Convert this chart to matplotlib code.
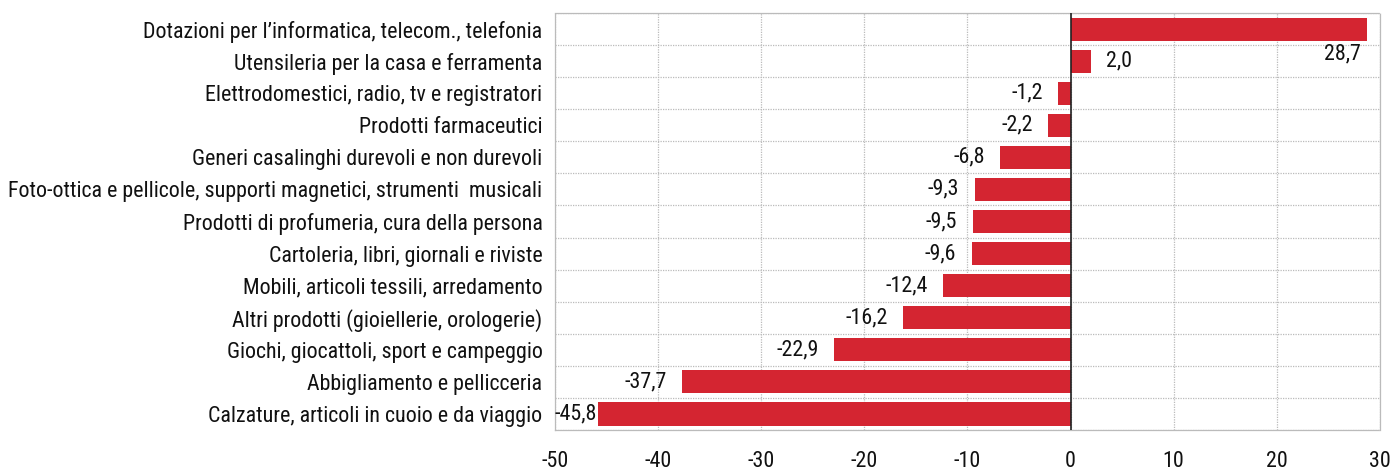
import matplotlib
matplotlib.use("Agg")
import matplotlib.pyplot as plt

categories = [
    "Dotazioni per l\u2019informatica, telecom., telefonia",
    "Utensileria per la casa e ferramenta",
    "Elettrodomestici, radio, tv e registratori",
    "Prodotti farmaceutici",
    "Generi casalinghi durevoli e non durevoli",
    "Foto-ottica e pellicole, supporti magnetici, strumenti  musicali",
    "Prodotti di profumeria, cura della persona",
    "Cartoleria, libri, giornali e riviste",
    "Mobili, articoli tessili, arredamento",
    "Altri prodotti (gioiellerie, orologerie)",
    "Giochi, giocattoli, sport e campeggio",
    "Abbigliamento e pellicceria",
    "Calzature, articoli in cuoio e da viaggio",
]
values = [28.7, 2.0, -1.2, -2.2, -6.8, -9.3, -9.5, -9.6, -12.4, -16.2, -22.9, -37.7, -45.8]
xticks = [-50, -40, -30, -20, -10, 0, 10, 20, 30]

plt.rcParams["font.family"] = ["Roboto Condensed", "Liberation Sans", "DejaVu Sans"]
FS = 15.8

fig = plt.figure(figsize=(13.95, 4.70), dpi=100)
ax = fig.add_axes([0.3978, 0.0851, 0.5914, 0.8872])

n = len(categories)
ypos = list(range(n))
ax.barh(ypos, values, height=0.72, color="#D42531", zorder=3)
ax.set_ylim(n - 0.5, -0.5)
ax.set_xlim(-50, 30)
ax.set_xticks(xticks)
ax.set_xticklabels([str(t) for t in xticks], fontsize=FS, color="#111111")
ax.set_yticks(ypos)
ax.set_yticklabels(categories, fontsize=FS, color="#111111")
ax.set_yticks([i + 0.5 for i in range(-1, n)], minor=True)
ax.tick_params(axis="both", which="both", length=0)
ax.tick_params(axis="x", pad=15)
ax.tick_params(axis="y", pad=9)
ax.grid(axis="x", which="major", color="#BBBBBB", linestyle=(0, (1, 1)), linewidth=0.9, zorder=0)
ax.grid(axis="y", which="minor", color="#BBBBBB", linestyle=(0, (1, 1)), linewidth=0.9, zorder=0)
for s in ax.spines.values():
    s.set_color("#BBBBBB")
    s.set_linestyle((0, (1, 1)))
    s.set_linewidth(0.9)
ax.axvline(0, color="#222222", linewidth=1.2, zorder=4)

for i, v in enumerate(values):
    lab = f"{v:.1f}".replace(".", ",")
    if v >= 20:
        ax.annotate(lab, (v, i), xytext=(-4, -18), textcoords="offset points",
                    ha="right", va="center", fontsize=FS, color="#111111")
    elif v >= 0:
        ax.annotate(lab, (v, i), xytext=(11, 0), textcoords="offset points",
                    ha="left", va="center", fontsize=FS, color="#111111")
    elif v <= -40:
        ax.annotate(lab, (ax.get_xlim()[0], i), xytext=(-0.5, 0), textcoords="offset points",
                    ha="left", va="center", fontsize=FS, color="#111111")
    else:
        ax.annotate(lab, (v, i), xytext=(-11, 0), textcoords="offset points",
                    ha="right", va="center", fontsize=FS, color="#111111")

fig.savefig("out.png", dpi=100)
